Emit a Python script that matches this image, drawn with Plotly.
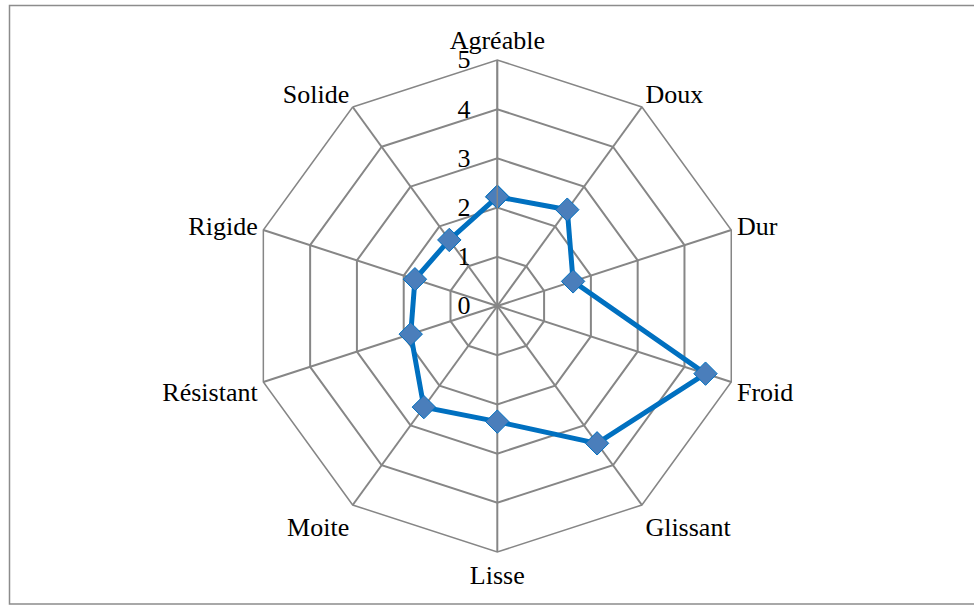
import plotly.graph_objects as go

# Sensory profile scores (0-5) per descriptor
categories = ["Agréable", "Doux", "Dur", "Froid", "Glissant",
              "Lisse", "Moite", "Résistant", "Rigide", "Solide"]
scores = [2.22, 2.42, 1.62, 4.45, 3.45, 2.35, 2.54, 1.85, 1.76, 1.66]
radial_ticks = [0, 1, 2, 3, 4, 5]

W, H = 974, 606
cx, cy, R = 497.3, 306.0, 246.0

FONT = "Liberation Serif, Times New Roman, serif"
GRID = "#868686"

fig = go.Figure()
fig.add_trace(go.Scatterpolar(
    r=scores + scores[:1],
    theta=categories + categories[:1],
    mode="lines+markers",
    line=dict(color="#0070C0", width=5),
    marker=dict(symbol="diamond", size=18, color="#4A7EBB",
                line=dict(color="#0070C0", width=1)),
    showlegend=False,
))

fig.update_layout(
    width=W, height=H,
    margin=dict(l=0, r=0, t=0, b=0),
    paper_bgcolor="white",
    font=dict(family=FONT, size=26, color="black"),
    polar=dict(
        domain=dict(x=[(cx - R) / W, (cx + R) / W],
                    y=[(H - cy - R) / H, (H - cy + R) / H]),
        gridshape="linear",
        bgcolor="white",
        angularaxis=dict(
            rotation=90, direction="clockwise",
            categoryorder="array", categoryarray=categories,
            showline=True, linecolor=GRID, linewidth=1.5,
            showgrid=True, gridcolor=GRID, gridwidth=1.5,
            ticks="", tickfont=dict(family=FONT, size=26, color="black"),
        ),
        radialaxis=dict(
            range=[0, 5], tickvals=radial_ticks,
            angle=90, tickangle=90, side="counterclockwise",
            showline=True, linecolor=GRID, linewidth=1.5,
            showgrid=True, gridcolor=GRID, gridwidth=1.5,
            ticks="outside", ticklen=17, tickcolor="rgba(0,0,0,0)",
            tickfont=dict(family=FONT, size=26, color="black"),
        ),
    ),
    shapes=[dict(type="rect", xref="paper", yref="paper",
                 x0=9.5 / W, x1=1.02, y0=(H - 604) / H, y1=(H - 5.5) / H,
                 line=dict(color="#8C8C8C", width=1.5),
                 fillcolor="rgba(0,0,0,0)")],
)

fig.write_html("out.html")
